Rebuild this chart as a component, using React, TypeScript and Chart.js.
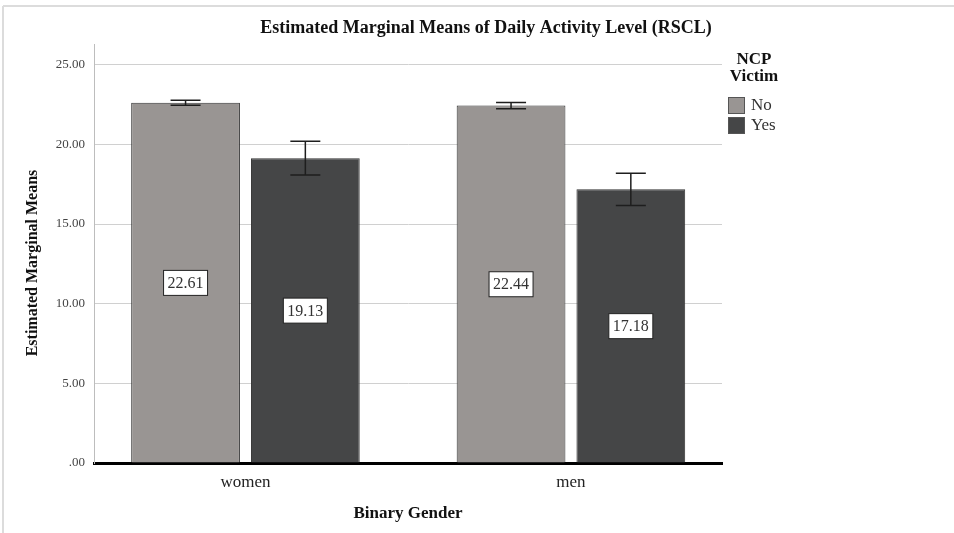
import React, { useEffect, useRef } from 'react';
import { Chart, registerables } from 'chart.js';

Chart.register(...registerables);

const categories = ['women', 'men'];
const seriesLabels = ['No', 'Yes'];
const noMeans = [22.61, 22.44];
const yesMeans = [19.13, 17.18];
const noLower = [22.46, 22.24];
const noUpper = [22.77, 22.63];
const yesLower = [18.07, 16.17];
const yesUpper = [20.19, 18.18];
const yTickValues = [0, 5, 10, 15, 20, 25];
const yTickLabels = ['.00', '5.00', '10.00', '15.00', '20.00', '25.00'];
const seriesColors = ['#999593', '#454647'];

const titleText = 'Estimated Marginal Means of Daily Activity Level (RSCL)';
const yTitleText = 'Estimated Marginal Means';
const xTitleText = 'Binary Gender';
const legendTitle = ['NCP', 'Victim'];

const SERIF = '"Liberation Serif", "Times New Roman", serif';

const decorPlugin = {
  id: 'decor',
  afterDatasetsDraw(chart: any) {
    const ctx = chart.ctx as CanvasRenderingContext2D;
    const y = chart.scales.y;
    const lows = [noLower, yesLower];
    const highs = [noUpper, yesUpper];
    const means = [noMeans, yesMeans];
    chart.data.datasets.forEach((_ds: any, di: number) => {
      const meta = chart.getDatasetMeta(di);
      meta.data.forEach((el: any, i: number) => {
        const x = el.x;
        const yl = y.getPixelForValue(lows[di][i]);
        const yh = y.getPixelForValue(highs[di][i]);
        ctx.save();
        ctx.strokeStyle = '#1e1e1e';
        ctx.lineWidth = 1.5;
        ctx.beginPath();
        ctx.moveTo(x, yl);
        ctx.lineTo(x, yh);
        ctx.moveTo(x - 15, yl);
        ctx.lineTo(x + 15, yl);
        ctx.moveTo(x - 15, yh);
        ctx.lineTo(x + 15, yh);
        ctx.stroke();
        const v = means[di][i];
        const txt = v.toFixed(2);
        ctx.font = '16px ' + SERIF;
        const w = ctx.measureText(txt).width + 8;
        const h = 25;
        const cy = y.getPixelForValue(v / 2);
        ctx.fillStyle = '#ffffff';
        ctx.fillRect(x - w / 2, cy - h / 2, w, h);
        ctx.strokeStyle = '#222';
        ctx.lineWidth = 1;
        ctx.strokeRect(x - w / 2, cy - h / 2, w, h);
        ctx.fillStyle = '#333';
        ctx.textAlign = 'center';
        ctx.textBaseline = 'middle';
        ctx.fillText(txt, x, cy + 1);
        ctx.restore();
      });
    });
  },
  afterDraw(chart: any) {
    const ctx = chart.ctx as CanvasRenderingContext2D;
    const area = chart.chartArea;
    ctx.save();
    ctx.strokeStyle = '#dcdcdc';
    ctx.lineWidth = 2;
    ctx.beginPath();
    ctx.moveTo(3, 6);
    ctx.lineTo(954, 6);
    ctx.moveTo(3, 6);
    ctx.lineTo(3, 533);
    ctx.stroke();
    ctx.fillStyle = '#111';
    ctx.textAlign = 'center';
    ctx.textBaseline = 'middle';
    ctx.font = 'bold 18px ' + SERIF;
    ctx.fillText(titleText, 486, 28);
    ctx.font = 'bold 17px ' + SERIF;
    ctx.fillText(xTitleText, (area.left + area.right) / 2, 514);
    ctx.save();
    ctx.translate(33, 263);
    ctx.rotate(-Math.PI / 2);
    ctx.font = 'bold 16px ' + SERIF;
    ctx.fillText(yTitleText, 0, 0);
    ctx.restore();
    ctx.font = 'bold 17px ' + SERIF;
    ctx.fillText(legendTitle[0], 754, 60);
    ctx.fillText(legendTitle[1], 754, 77);
    const boxTops = [97, 117];
    seriesLabels.forEach((lab, i) => {
      ctx.fillStyle = seriesColors[i];
      ctx.fillRect(728, boxTops[i], 17, 17);
      ctx.strokeStyle = '#555';
      ctx.lineWidth = 1;
      ctx.strokeRect(728.5, boxTops[i] + 0.5, 16, 16);
      ctx.fillStyle = '#333';
      ctx.textAlign = 'left';
      ctx.font = '17px ' + SERIF;
      ctx.fillText(lab, 751, boxTops[i] + 9);
    });
    ctx.restore();
  },
};

export default function App() {
  const ref = useRef<HTMLCanvasElement | null>(null);
  useEffect(() => {
    document.body.style.margin = '0';
    if (!ref.current) return;
    const chart = new Chart(ref.current, {
      type: 'bar',
      data: {
        datasets: [
          {
            label: seriesLabels[0],
            data: noMeans.map((v, i) => ({ x: i + 1, y: v })),
            backgroundColor: seriesColors[0],
            borderColor: '#333',
            borderWidth: 1,
          },
          {
            label: seriesLabels[1],
            data: yesMeans.map((v, i) => ({ x: i + 1, y: v })),
            backgroundColor: seriesColors[1],
            borderColor: '#333',
            borderWidth: 1,
          },
        ],
      },
      options: {
        responsive: false,
        animation: false,
        categoryPercentage: 0.736,
        barPercentage: 0.908,
        layout: { padding: { left: 0, top: 44, right: 232, bottom: 0 } },
        plugins: { legend: { display: false }, tooltip: { enabled: false }, title: { display: false } },
        scales: {
          x: {
            type: 'linear',
            offset: false,
            min: 0.5347,
            max: 2.4641,
            z: 1,
            grid: { display: false, drawTicks: false, offset: false },
            border: { display: true, color: '#000', width: 3 },
            afterBuildTicks: (s: any) => {
              s.ticks = categories.map((_c, i) => ({ value: i + 1 }));
            },
            afterFit: (s: any) => {
              s.height = 70;
            },
            ticks: {
              autoSkip: false,
              maxRotation: 0,
              padding: 9,
              color: '#222',
              font: { family: SERIF, size: 17 },
              callback: (v: any) => categories[Math.round(Number(v)) - 1] ?? '',
            },
          },
          y: {
            type: 'linear',
            min: 0,
            max: 26.3,
            grid: { color: '#d0d0d0', lineWidth: 1, drawTicks: false },
            border: { display: true, color: '#bdbdbd', width: 1 },
            afterBuildTicks: (s: any) => {
              s.ticks = yTickValues.map((v) => ({ value: v }));
            },
            afterFit: (s: any) => {
              s.width = 94;
            },
            ticks: {
              padding: 9,
              color: '#444',
              font: { family: SERIF, size: 13 },
              callback: (v: any) => {
                const idx = yTickValues.indexOf(Number(v));
                return idx >= 0 ? yTickLabels[idx] : '';
              },
            },
          },
        },
      },
      plugins: [decorPlugin],
    } as any);
    return () => chart.destroy();
  }, []);
  return (
    <div style={{ width: 954, height: 533 }}>
      <canvas ref={ref} width={954} height={533} />
    </div>
  );
}
